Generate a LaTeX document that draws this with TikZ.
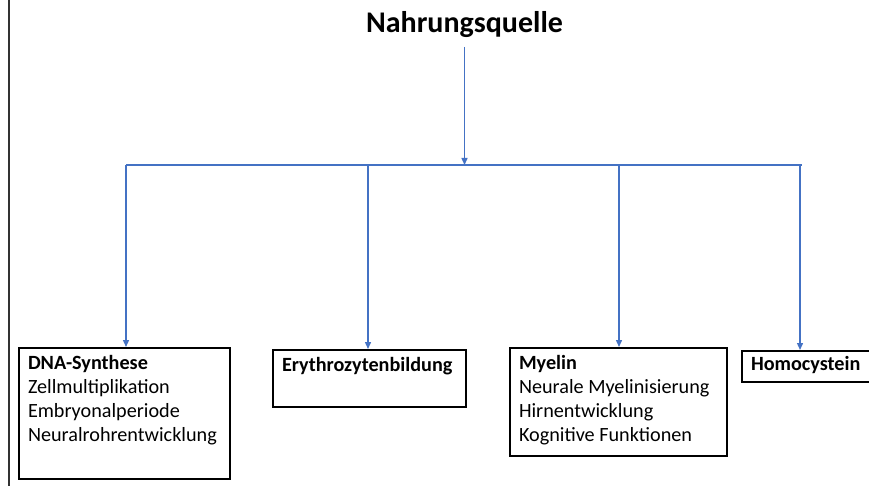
\documentclass[tikz,border=0pt]{standalone}
\usepackage{fontspec}
\setmainfont{Carlito}
\usetikzlibrary{arrows.meta,positioning}
\definecolor{linkblue}{HTML}{4472C4}
\definecolor{frame}{HTML}{333333}
\begin{document}
\begin{tikzpicture}[>={Triangle[length=7pt,width=6pt]},x=1pt,y=-1pt,
  box/.style={draw,line width=2pt,anchor=north west,inner xsep=9pt,inner ysep=7pt,
    align=left,font=\fontsize{20.2}{24.2}\selectfont},
  link/.style={linkblue,line width=1.4pt}]
\useasboundingbox (0,0) rectangle (869,486);
\draw[frame,line width=1.6pt] (9,0)--(9,486);
\node[font=\fontsize{30}{34}\selectfont\bfseries] (src) at (464.5,25){Nahrungsquelle};
\node[box] (dna) at (18,347){\parbox[t][117pt][t]{193pt}{\textbf{DNA-Synthese}\\Zellmultiplikation\\Embryonalperiode\\Neuralrohrentwicklung}};
\node[box] (ery) at (272,349){\parbox[t][43pt][t]{175pt}{\textbf{Erythrozytenbildung}}};
\node[box] (mye) at (509,347){\parbox[t][94pt][t]{199pt}{\textbf{Myelin}\\Neurale Myelinisierung\\Hirnentwicklung\\Kognitive Funktionen}};
\node[box,inner ysep=5pt] (hcy) at (741,350){\parbox[t][21pt][t]{140pt}{\textbf{Homocystein}}};
\coordinate (b1) at (126,165); \coordinate (b2) at (368,165);
\coordinate (b3) at (619,165); \coordinate (b4) at (800,165);
\coordinate (bend) at (802,165);
\draw[link,->] (src.south |- 0,47)--(src.south |- b1);
\draw[link] (b1)--(bend);
\draw[link,->] (b1)--(b1 |- dna.north);
\draw[link,->] (b2)--(b2 |- ery.north);
\draw[link,->] (b3)--(b3 |- mye.north);
\draw[link,->] (b4)--(b4 |- hcy.north);
\end{tikzpicture}
\end{document}
